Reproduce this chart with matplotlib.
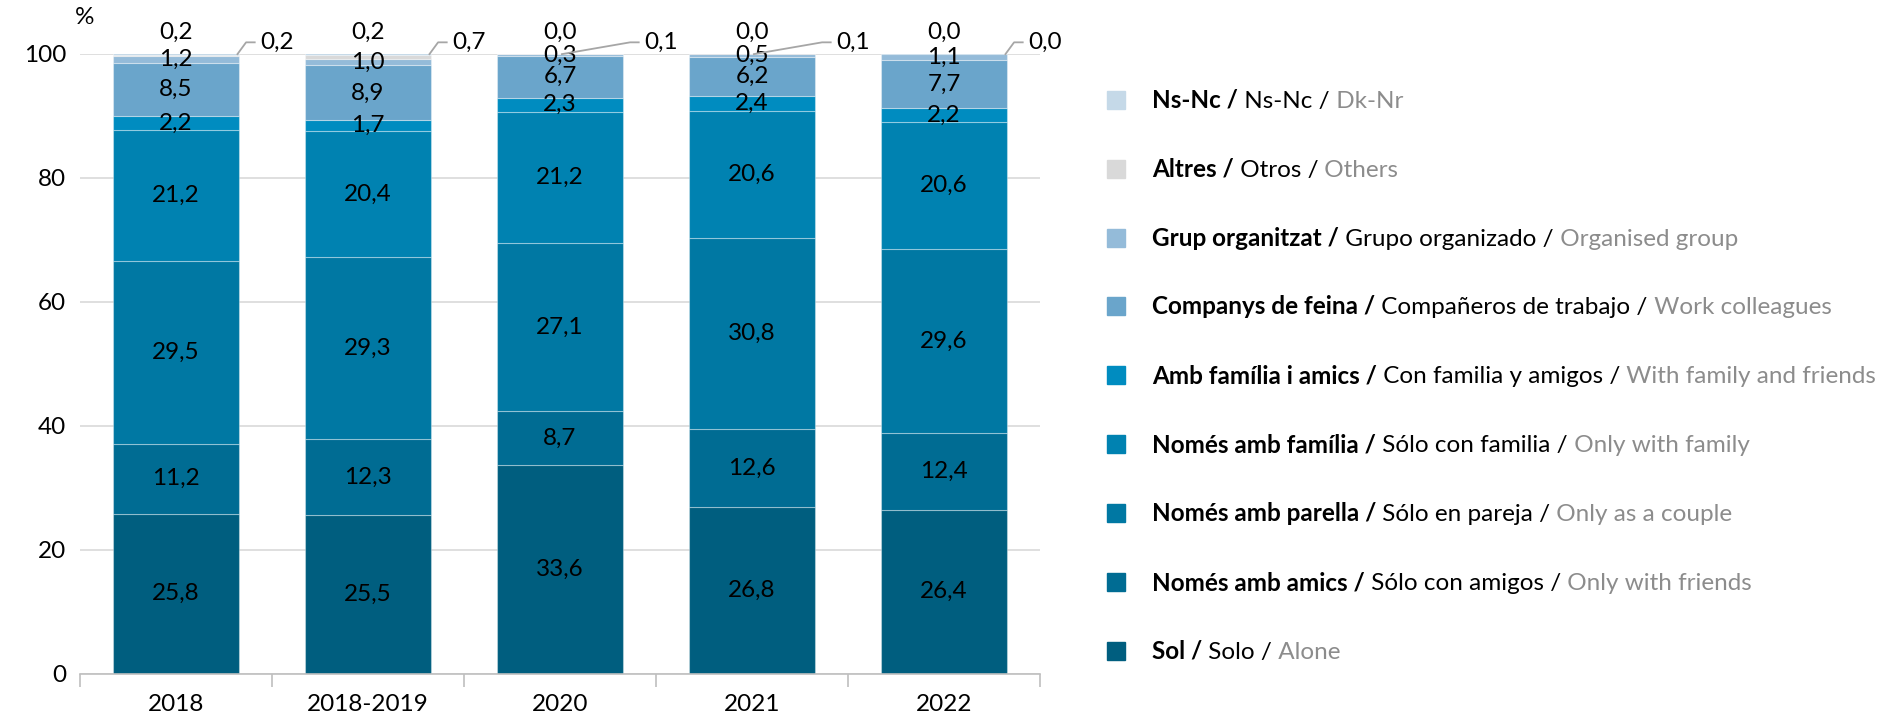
import matplotlib.pyplot as plt
from matplotlib import font_manager

# categories and series (stacked bottom -> top)
years = ["2018", "2018-2019", "2020", "2021", "2022"]

sol = [25.8, 25.5, 33.6, 26.8, 26.4]
nomes_amics = [11.2, 12.3, 8.7, 12.6, 12.4]
nomes_parella = [29.5, 29.3, 27.1, 30.8, 29.6]
nomes_familia = [21.2, 20.4, 21.2, 20.6, 20.6]
familia_amics = [2.2, 1.7, 2.3, 2.4, 2.2]
companys = [8.5, 8.9, 6.7, 6.2, 7.7]
grup = [1.2, 1.0, 0.3, 0.5, 1.1]
altres = [0.2, 0.7, 0.1, 0.1, 0.0]
ns_nc = [0.2, 0.2, 0.0, 0.0, 0.0]

labels_ca = ["Sol", "Només amb amics", "Només amb parella", "Només amb família",
             "Amb família i amics", "Companys de feina", "Grup organitzat", "Altres", "Ns-Nc"]
labels_es = ["Solo", "Sólo con amigos", "Sólo en pareja", "Sólo con familia",
             "Con familia y amigos", "Compañeros de trabajo", "Grupo organizado", "Otros", "Ns-Nc"]
labels_en = ["Alone", "Only with friends", "Only as a couple", "Only with family",
             "With family and friends", "Work colleagues", "Organised group", "Others", "Dk-Nr"]

colors = ["#005e7f", "#006c93", "#0078a3", "#0082b1", "#008cc0",
          "#6aa5cb", "#94bbd9", "#d9d9d9", "#c5d9e8"]

names = {f.name for f in font_manager.fontManager.ttflist}
if "Liberation Sans Narrow" in names:
    FONT, FS = "Liberation Sans Narrow", 17
else:
    FONT, FS = "Lato", 17.5
plt.rcParams["font.family"] = [FONT, "DejaVu Sans"]
plt.rcParams["font.size"] = FS

W, H = 1898, 721
fig = plt.figure(figsize=(W / 100, H / 100), dpi=100)
ax = fig.add_axes([80 / W, 1 - 673.5 / H, 960 / W, 620 / H])

series = [sol, nomes_amics, nomes_parella, nomes_familia, familia_amics,
          companys, grup, altres, ns_nc]
x = list(range(len(years)))
bw = 0.655
bottom = [0.0] * len(years)
for k, vals in enumerate(series):
    ax.bar(x, vals, bw, bottom=bottom, color=colors[k],
           edgecolor=(1, 1, 1, 0.35), linewidth=0.8, zorder=2)
    if k < 7:
        for i, v in enumerate(vals):
            ax.text(i, bottom[i] + v / 2, f"{v:.1f}".replace(".", ","),
                    ha="center", va="center", zorder=3)
    bottom = [b + v for b, v in zip(bottom, vals)]

# "Ns-Nc" labels above the bars
for i, v in enumerate(ns_nc):
    ax.text(i, 103.4, f"{v:.1f}".replace(".", ","), ha="center", va="center",
            clip_on=False)

# "Altres" labels with leader lines
lead_start = [0.32, 0.32, 0.01, 0.01, 0.32]
for i, v in enumerate(altres):
    ax.plot([i + lead_start[i], i + 0.365, i + 0.41], [99.9, 101.8, 101.8],
            color="#a6a6a6", lw=1.3, clip_on=False, zorder=4)
    ax.text(i + 0.44, 101.8, f"{v:.1f}".replace(".", ","), ha="left",
            va="center", clip_on=False)

ax.set_xlim(-0.5, len(years) - 0.5)
ax.set_ylim(0, 100)
ax.set_yticks([0, 20, 40, 60, 80, 100])
ax.grid(axis="y", color="#d9d9d9", lw=1.2, zorder=0)
ax.set_axisbelow(True)
ax.tick_params(axis="y", length=0, pad=10)
ax.set_xticks(x)
ax.set_xticklabels(years)
ax.tick_params(axis="x", which="major", length=0, pad=15)
ax.set_xticks([i - 0.5 for i in range(len(years) + 1)], minor=True)
ax.tick_params(axis="x", which="minor", length=9, color="#bfbfbf", width=1.2)
for s in ["top", "right", "left"]:
    ax.spines[s].set_visible(False)
ax.spines["bottom"].set_color("#bfbfbf")
ax.spines["bottom"].set_linewidth(1.2)
fig.text(75 / W, 1 - 18 / H, "%", ha="left", va="center")

# legend (top -> bottom)
sq = 18
for r, k in enumerate(reversed(range(len(series)))):
    yc = 99.7 + r * 68.9
    fig.patches.append(plt.Rectangle((1107 / W, 1 - (yc + sq / 2) / H), sq / W, sq / H,
                                     color=colors[k], transform=fig.transFigure, figure=fig))
    yb = 1 - (yc + 8) / H
    t1 = fig.text(1152 / W, yb, labels_ca[k] + " /", fontweight="bold", va="baseline")
    t2 = ax.annotate(" " + labels_es[k] + " /", xy=(1, yb), xycoords=(t1, "figure fraction"),
                     va="baseline", ha="left", annotation_clip=False)
    ax.annotate(" " + labels_en[k], xy=(1, yb), xycoords=(t2, "figure fraction"),
                va="baseline", ha="left", color="#8c8c8c", annotation_clip=False)

fig.savefig("out.png", dpi=100)
